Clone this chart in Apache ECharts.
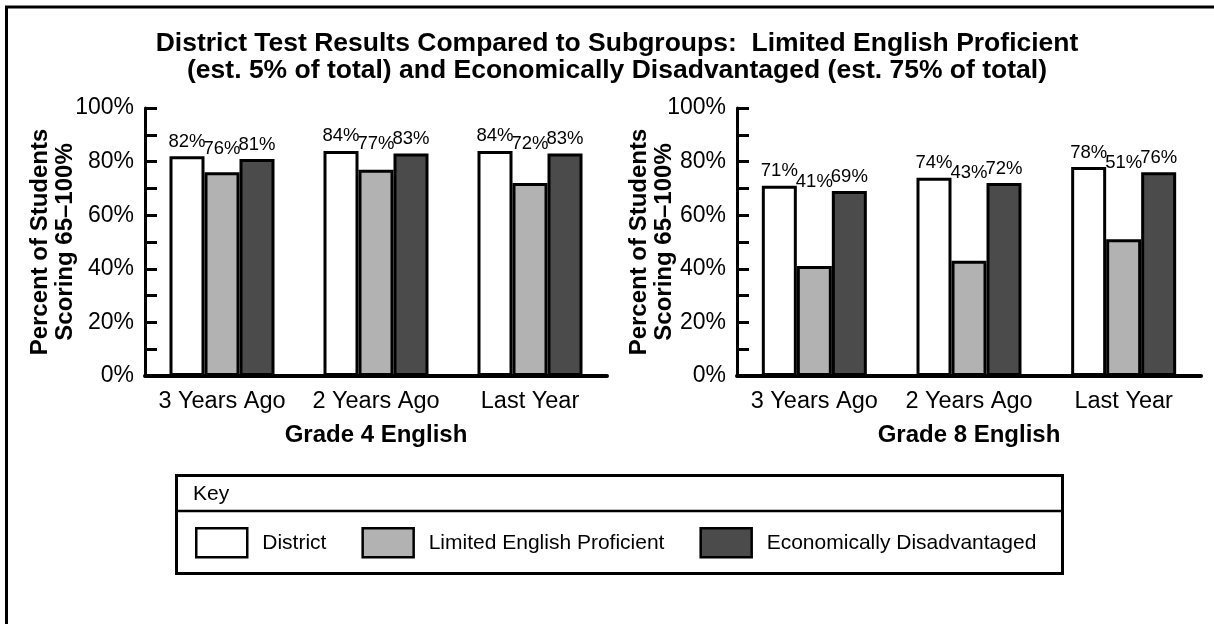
<!DOCTYPE html>
<html><head><meta charset="utf-8">
<script src="https://cdn.jsdelivr.net/npm/echarts@6/dist/echarts.min.js"></script>
<style>html,body{margin:0;padding:0;background:#fff}#c{width:1214px;height:624px}</style>
</head><body><div id="c"></div>
<script>
const categories = ['3 Years Ago', '2 Years Ago', 'Last Year'];
const seriesNames = ['District', 'Limited English Proficient', 'Economically Disadvantaged'];
const grade4District = [82, 84, 84];
const grade4LEP = [76, 77, 72];
const grade4Econ = [81, 83, 83];
const grade8District = [71, 74, 78];
const grade8LEP = [41, 43, 51];
const grade8Econ = [69, 72, 76];
const yTickLabels = [0, 20, 40, 60, 80, 100];
const panelNames = ['Grade 4 English', 'Grade 8 English'];
const titleText = 'District Test Results Compared to Subgroups:  Limited English Proficient\n(est. 5% of total) and Economically Disadvantaged (est. 75% of total)';
const yName = 'Percent of Students\nScoring 65\u2013100%';
const keyTitle = 'Key';

const FONT = "'Liberation Sans', Arial, Helvetica, sans-serif";
const colors = ['#ffffff', '#b2b2b2', '#4b4b4b'];

const chart = echarts.init(document.getElementById('c'), null, {renderer: 'canvas'});

function xAxis(gi) {
  return {
    type: 'category', gridIndex: gi, data: categories,
    axisLine: {show: true, lineStyle: {color: '#000', width: 4}},
    axisTick: {show: false},
    axisLabel: {fontSize: 23.5, color: '#000', margin: 14, fontFamily: FONT, interval: 0, hideOverlap: false},
    splitLine: {show: false},
    name: panelNames[gi], nameLocation: 'middle', nameGap: 47, nameMoveOverlap: false,
    nameTextStyle: {fontSize: 24, fontWeight: 'bold', color: '#000', fontFamily: FONT}
  };
}
function yAxis(gi, gap) {
  return {
    type: 'value', gridIndex: gi, min: 0, max: 100, interval: 10,
    axisLine: {show: true, lineStyle: {color: '#000', width: 3}},
    axisTick: {show: true, inside: true, length: 12, lineStyle: {color: '#000', width: 3}},
    axisLabel: {fontSize: 23, color: '#000', margin: 11, fontFamily: FONT,
      formatter: v => yTickLabels.includes(v) ? v + '%' : ''},
    splitLine: {show: false},
    name: yName, nameLocation: 'middle', nameGap: gap, nameMoveOverlap: false,
    nameTextStyle: {fontSize: 24, fontWeight: 'bold', color: '#000', lineHeight: 25, fontFamily: FONT}
  };
}
function bar(gi, idx, data, showLabel) {
  return {
    type: 'bar', name: seriesNames[idx], xAxisIndex: gi, yAxisIndex: gi, data: data,
    barWidth: 35, barGap: '0%',
    itemStyle: {color: colors[idx], borderColor: '#000', borderWidth: 3},
    label: {show: showLabel, position: 'top', distance: 5, fontSize: 18.5, color: '#000',
      fontFamily: FONT, formatter: p => p.value + '%'},
    emphasis: {disabled: true}, animation: false
  };
}
// LEP labels sit just below the taller neighbours' labels, as in the source
function lepLabels(gi, lep, dist, econ) {
  return {
    type: 'scatter', xAxisIndex: gi, yAxisIndex: gi, silent: true,
    symbol: 'rect', symbolSize: 1, itemStyle: {color: 'rgba(0,0,0,0)', opacity: 1},
    data: lep.map((v, i) => ({value: [i, Math.min(dist[i], econ[i]) - 2], lep: v})),
    label: {show: true, position: 'top', distance: 5, fontSize: 18.5, color: '#000', opacity: 1,
      fontFamily: FONT, formatter: p => p.data.lep + '%'},
    emphasis: {disabled: true},
    animation: false, z: 5
  };
}

const option = {
  backgroundColor: '#fff',
  animation: false,
  textStyle: {fontFamily: FONT},
  title: {
    text: titleText, left: 617, top: 30, padding: 0, textAlign: 'center',
    textStyle: {fontSize: 26.5, fontWeight: 'bold', color: '#000', lineHeight: 27, fontFamily: FONT}
  },
  grid: [
    {left: 145, top: 108, width: 462, height: 268, outerBoundsMode: 'none'},
    {left: 737, top: 108, width: 464, height: 268, outerBoundsMode: 'none'}
  ],
  xAxis: [xAxis(0), xAxis(1)],
  yAxis: [yAxis(0, 67), yAxis(1, 60)],
  legend: {
    data: seriesNames, left: 195, top: 527, padding: 0, orient: 'horizontal',
    itemWidth: 51, itemHeight: 29, itemGap: 35, icon: 'rect', selectedMode: false,
    itemStyle: {borderColor: '#000', borderWidth: 2.5},
    textStyle: {fontSize: 21, color: '#000', fontFamily: FONT, padding: [0, 0, 0, 10]}
  },
  series: [
    bar(0, 0, grade4District, true),
    bar(0, 1, grade4LEP, false),
    bar(0, 2, grade4Econ, true),
    lepLabels(0, grade4LEP, grade4District, grade4Econ),
    bar(1, 0, grade8District, true),
    bar(1, 1, grade8LEP, false),
    bar(1, 2, grade8Econ, true),
    lepLabels(1, grade8LEP, grade8District, grade8Econ)
  ],
  graphic: [
    {type: 'polyline', silent: true, shape: {points: [[6.5, 624], [6.5, 7], [1214, 7]]},
      style: {stroke: '#000', lineWidth: 3, fill: null}},
    {type: 'rect', silent: true, shape: {x: 176.5, y: 475.5, width: 886, height: 98},
      style: {fill: null, stroke: '#000', lineWidth: 3}},
    {type: 'line', silent: true, shape: {x1: 176, y1: 511, x2: 1063, y2: 511},
      style: {stroke: '#000', lineWidth: 2.5}},
    {type: 'text', silent: true, x: 193, y: 494,
      style: {text: keyTitle, fontSize: 21, fill: '#000', fontFamily: FONT, verticalAlign: 'middle'}}
  ]
};
chart.setOption(option);
</script>
</body></html>
